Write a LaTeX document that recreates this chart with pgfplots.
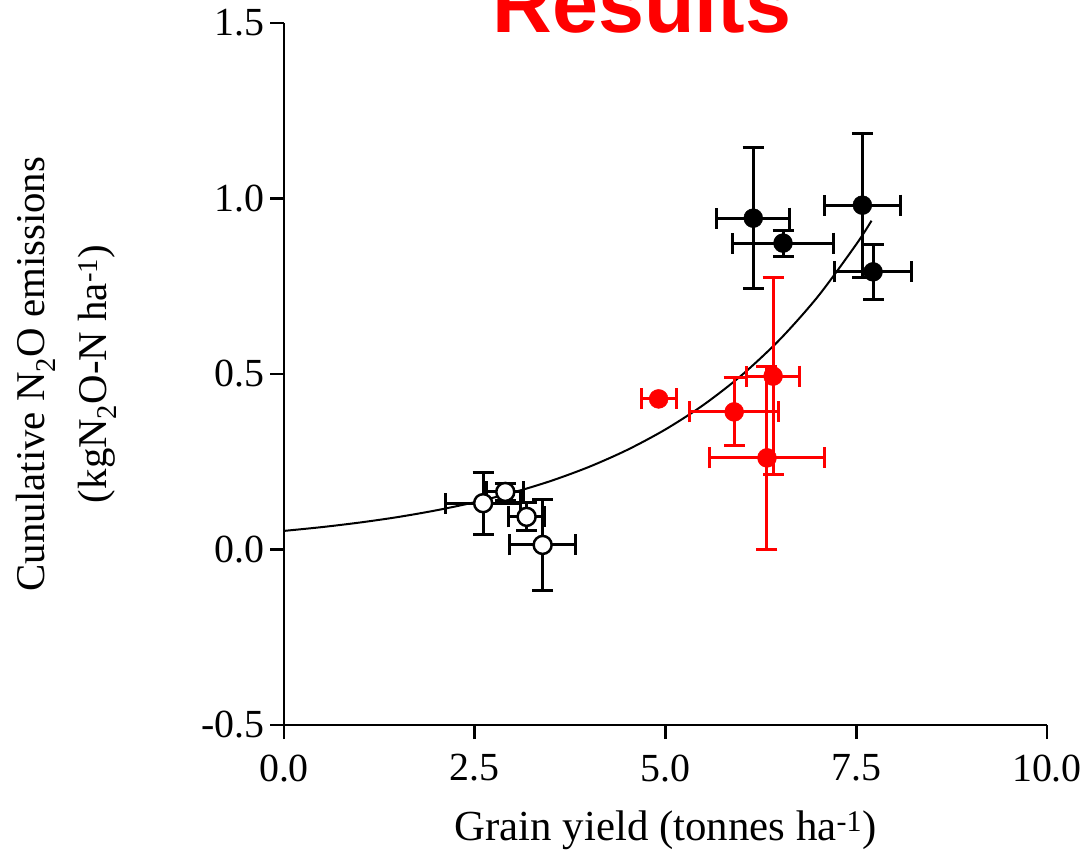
\documentclass[border=0pt]{standalone}
\usepackage{fontspec}
\setmainfont{Liberation Serif}
\newfontfamily\titlefont{Liberation Sans}
\usepackage{pgfplots}
\pgfplotsset{compat=1.18}
\usepackage{pgfplotstable}

\pgfplotstableread{
x y ex ey
2.61 0.132 0.49 0.088
2.90 0.164 0.24 0.025
3.18 0.093 0.24 0.040
3.39 0.013 0.43 0.130
}\opendata

\pgfplotstableread{
x y ex ey
4.91 0.429 0.23 0.0
5.90 0.392 0.58 0.097
6.41 0.494 0.35 0.280
6.33 0.261 0.75 0.260
}\reddata

\pgfplotstableread{
x y ex ey
6.15 0.944 0.48 0.200
6.54 0.873 0.66 0.037
7.58 0.981 0.50 0.205
7.72 0.791 0.50 0.078
}\blackdata

\begin{document}
\begin{tikzpicture}
\begin{axis}[
  scale only axis, width=763bp, height=702bp,
  xmin=0, xmax=10, ymin=-0.5, ymax=1.5,
  axis x line*=bottom, axis y line*=left,
  axis line style={line width=2.5bp},
  tick style={line width=2.8bp, black},
  tick align=outside, major tick length=14bp,
  xtick={0,2.5,5,7.5,10}, xticklabels={0.0,2.5,5.0,7.5,10.0},
  ytick={-0.5,0,0.5,1,1.5}, yticklabels={-0.5,0.0,0.5,1.0,1.5},
  ticklabel style={font=\fontsize{40}{48}\selectfont},
  xticklabel style={yshift=-12bp},
  yticklabel style={xshift=-2bp},
  xlabel={Grain yield (tonnes ha\textsuperscript{-1})},
  xlabel style={font=\fontsize{43}{50}\selectfont, at={(axis description cs:0.5,-0.15)}, anchor=center},
  ylabel={Cunulative N\textsubscript{2}O emissions\\(kgN\textsubscript{2}O-N ha\textsuperscript{-1})},
  ylabel style={font=\fontsize{41}{62}\selectfont, align=center, at={(axis description cs:-0.285,0.5)}, anchor=center},
  clip=false,
  error bars/error bar style={line width=3bp},
  error bars/error mark options={rotate=90, line width=3bp, mark size=10.5bp},
]
\coordinate (SW) at (rel axis cs:0,0);
\coordinate (NE) at (rel axis cs:1,1);

\addplot[black, line width=2bp, smooth, no marks] coordinates {
(0,0.053) (0.5,0.0639) (1,0.0770) (1.5,0.0927) (2,0.1118) (2.5,0.1347)
(3,0.1623) (3.5,0.1955) (4,0.2356) (4.5,0.2839) (5,0.3422) (5.5,0.4123)
(6,0.4969) (6.5,0.5987) (7,0.7215) (7.5,0.8694) (7.7,0.9367)
};

\addplot[black, only marks, mark=*, mark size=9bp, mark options={fill=white, draw=black, line width=2.5bp},
  error bars/.cd, x dir=both, y dir=both, x explicit, y explicit]
  table[x=x, y=y, x error=ex, y error=ey] {\opendata};

\addplot[red, only marks, mark=*, mark size=9.5bp, mark options={fill=red, draw=red},
  error bars/.cd, x dir=both, y dir=both, x explicit, y explicit]
  table[x=x, y=y, x error=ex, y error=ey] {\reddata};

\addplot[black, only marks, mark=*, mark size=9.5bp, mark options={fill=black, draw=black},
  error bars/.cd, x dir=both, y dir=both, x explicit, y explicit]
  table[x=x, y=y, x error=ex, y error=ey] {\blackdata};

\node[anchor=base, text=red, font=\titlefont\bfseries\fontsize{83}{90}\selectfont]
  at ([yshift=-10bp]rel axis cs:0.469,1) {Results};
\end{axis}
\pgfresetboundingbox
\path ([shift={(-284bp,-128bp)}]SW) rectangle ([shift={(40bp,23bp)}]NE);
\end{tikzpicture}
\end{document}
